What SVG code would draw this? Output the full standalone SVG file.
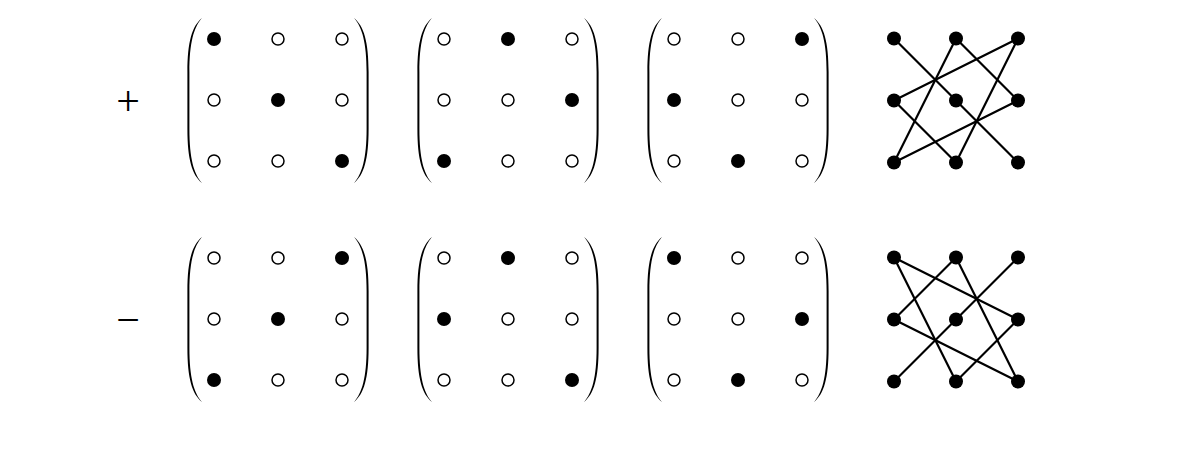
<svg xmlns="http://www.w3.org/2000/svg" width="1188" height="456" viewBox="0 0 1188 456">
<style>
.o{fill:#fff;stroke:#000;stroke-width:1.5}
.f{fill:#000}
.p{fill:#000}
.e{stroke:#000;stroke-width:2.2;fill:none;stroke-linecap:round}
.g{fill:#000}
.sym{font-family:"Liberation Serif",serif;font-size:42px;fill:#000}
</style>
<defs>
<path id="lp" d="M14,0 C4,8 -0.6,24 -0.6,54 L-0.6,111 C-0.6,141 4,157 14,165 C5.8,156 1.4,140 1.4,111 L1.4,54 C1.4,25 5.8,9 14,0 Z"/>
<path id="rp" d="M-14,0 C-4,8 0.6,24 0.6,54 L0.6,111 C0.6,141 -4,157 -14,165 C-5.8,156 -1.4,140 -1.4,111 L-1.4,54 C-1.4,25 -5.8,9 -14,0 Z"/>
</defs>
<rect width="1188" height="456" fill="#fff"/>
<text id="plus" class="sym" x="128" y="115" text-anchor="middle">+</text>
<text id="minus" class="sym" x="128" y="334" text-anchor="middle">−</text>

<g id="m1">
<use href="#lp" x="188" y="18"/><use href="#rp" x="368" y="18"/>
<circle class="f" cx="214" cy="39" r="7"/><circle class="o" cx="278" cy="39" r="6"/><circle class="o" cx="342" cy="39" r="6"/>
<circle class="o" cx="214" cy="100" r="6"/><circle class="f" cx="278" cy="100" r="7"/><circle class="o" cx="342" cy="100" r="6"/>
<circle class="o" cx="214" cy="161" r="6"/><circle class="o" cx="278" cy="161" r="6"/><circle class="f" cx="342" cy="161" r="7"/>
</g>
<g id="m2">
<use href="#lp" x="418" y="18"/><use href="#rp" x="598" y="18"/>
<circle class="o" cx="444" cy="39" r="6"/><circle class="f" cx="508" cy="39" r="7"/><circle class="o" cx="572" cy="39" r="6"/>
<circle class="o" cx="444" cy="100" r="6"/><circle class="o" cx="508" cy="100" r="6"/><circle class="f" cx="572" cy="100" r="7"/>
<circle class="f" cx="444" cy="161" r="7"/><circle class="o" cx="508" cy="161" r="6"/><circle class="o" cx="572" cy="161" r="6"/>
</g>
<g id="m3">
<use href="#lp" x="648" y="18"/><use href="#rp" x="828" y="18"/>
<circle class="o" cx="674" cy="39" r="6"/><circle class="o" cx="738" cy="39" r="6"/><circle class="f" cx="802" cy="39" r="7"/>
<circle class="f" cx="674" cy="100" r="7"/><circle class="o" cx="738" cy="100" r="6"/><circle class="o" cx="802" cy="100" r="6"/>
<circle class="o" cx="674" cy="161" r="6"/><circle class="f" cx="738" cy="161" r="7"/><circle class="o" cx="802" cy="161" r="6"/>
</g>

<g id="m4">
<use href="#lp" x="188" y="237"/><use href="#rp" x="368" y="237"/>
<circle class="o" cx="214" cy="258" r="6"/><circle class="o" cx="278" cy="258" r="6"/><circle class="f" cx="342" cy="258" r="7"/>
<circle class="o" cx="214" cy="319" r="6"/><circle class="f" cx="278" cy="319" r="7"/><circle class="o" cx="342" cy="319" r="6"/>
<circle class="f" cx="214" cy="380" r="7"/><circle class="o" cx="278" cy="380" r="6"/><circle class="o" cx="342" cy="380" r="6"/>
</g>
<g id="m5">
<use href="#lp" x="418" y="237"/><use href="#rp" x="598" y="237"/>
<circle class="o" cx="444" cy="258" r="6"/><circle class="f" cx="508" cy="258" r="7"/><circle class="o" cx="572" cy="258" r="6"/>
<circle class="f" cx="444" cy="319" r="7"/><circle class="o" cx="508" cy="319" r="6"/><circle class="o" cx="572" cy="319" r="6"/>
<circle class="o" cx="444" cy="380" r="6"/><circle class="o" cx="508" cy="380" r="6"/><circle class="f" cx="572" cy="380" r="7"/>
</g>
<g id="m6">
<use href="#lp" x="648" y="237"/><use href="#rp" x="828" y="237"/>
<circle class="f" cx="674" cy="258" r="7"/><circle class="o" cx="738" cy="258" r="6"/><circle class="o" cx="802" cy="258" r="6"/>
<circle class="o" cx="674" cy="319" r="6"/><circle class="o" cx="738" cy="319" r="6"/><circle class="f" cx="802" cy="319" r="7"/>
<circle class="o" cx="674" cy="380" r="6"/><circle class="f" cx="738" cy="380" r="7"/><circle class="o" cx="802" cy="380" r="6"/>
</g>

<g id="connectors">
<g id="edges-top" class="e">
<line x1="894" y1="38.5" x2="956" y2="100.5"/>
<line x1="956" y1="100.5" x2="1018" y2="162.5"/>
<line x1="956" y1="38.5" x2="1018" y2="100.5"/>
<line x1="1018" y1="38.5" x2="894" y2="100.5"/>
<line x1="956" y1="38.5" x2="894" y2="162.5"/>
<line x1="1018" y1="38.5" x2="956" y2="162.5"/>
<line x1="894" y1="100.5" x2="956" y2="162.5"/>
<line x1="1018" y1="100.5" x2="894" y2="162.5"/>
</g>
<g id="edges-bottom" class="e">
<line x1="894" y1="257.5" x2="1018" y2="319.5"/>
<line x1="894" y1="257.5" x2="956" y2="381.5"/>
<line x1="956" y1="257.5" x2="894" y2="319.5"/>
<line x1="956" y1="257.5" x2="1018" y2="381.5"/>
<line x1="1018" y1="257.5" x2="956" y2="319.5"/>
<line x1="956" y1="319.5" x2="894" y2="381.5"/>
<line x1="894" y1="319.5" x2="1018" y2="381.5"/>
<line x1="1018" y1="319.5" x2="956" y2="381.5"/>
</g>
</g>

<g id="graph-top" class="g">
<circle id="t11" cx="894" cy="38.5" r="7"/><circle id="t12" cx="956" cy="38.5" r="7"/><circle id="t13" cx="1018" cy="38.5" r="7"/>
<circle id="t21" cx="894" cy="100.5" r="7"/><circle id="t22" cx="956" cy="100.5" r="7"/><circle id="t23" cx="1018" cy="100.5" r="7"/>
<circle id="t31" cx="894" cy="162.5" r="7"/><circle id="t32" cx="956" cy="162.5" r="7"/><circle id="t33" cx="1018" cy="162.5" r="7"/>
</g>
<g id="graph-bottom" class="g">
<circle id="b11" cx="894" cy="257.5" r="7"/><circle id="b12" cx="956" cy="257.5" r="7"/><circle id="b13" cx="1018" cy="257.5" r="7"/>
<circle id="b21" cx="894" cy="319.5" r="7"/><circle id="b22" cx="956" cy="319.5" r="7"/><circle id="b23" cx="1018" cy="319.5" r="7"/>
<circle id="b31" cx="894" cy="381.5" r="7"/><circle id="b32" cx="956" cy="381.5" r="7"/><circle id="b33" cx="1018" cy="381.5" r="7"/>
</g>
</svg>
